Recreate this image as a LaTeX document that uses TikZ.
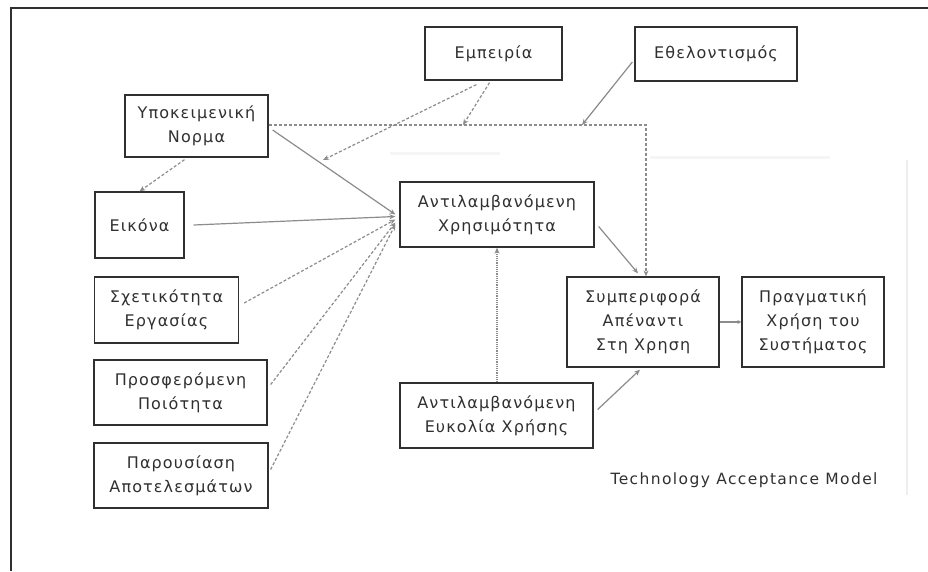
\documentclass[tikz,border=0pt]{standalone}
\usepackage{fontspec}
\setmainfont{DejaVu Sans}
\newfontfamily\boxfont[LetterSpace=7]{DejaVu Sans}
\newfontfamily\capfont[LetterSpace=9]{DejaVu Sans}
\usetikzlibrary{arrows.meta,calc}
\definecolor{ink}{HTML}{303030}
\definecolor{edge}{HTML}{8C8C8C}
\definecolor{faint}{HTML}{EEEEEE}
\begin{document}
\begin{tikzpicture}[x=1pt,y=-1pt,
  box/.style={draw=ink, line width=1.3pt, text=ink, align=center, inner sep=0pt,
    font=\boxfont\fontsize{16}{24}\selectfont},
  link/.style={draw=edge, line width=1.2pt, -{Stealth[length=6pt,width=5pt]}},
  dlink/.style={link, densely dashed},
  frame/.style={draw=ink, line width=2.2pt},
]
% page
\useasboundingbox (0,0) rectangle (928,571);
\fill[white] (0,0) rectangle (928,571);

% outer frame (top and left edges)
\draw[frame] (11,571) -- (11,8) -- (928,8);

% faint boundary of the acceptance model
\draw[faint, line width=1.5pt] (907,160) -- (907,495);
\draw[faint!60, line width=3pt] (390,153) -- (500,153);
\draw[faint!60, line width=3pt] (650,157) -- (830,157);

% factors
\node[box, minimum width=137pt, minimum height=53pt] (emp)    at (493.5,53.5) {Εμπειρία};
\node[box, minimum width=162pt, minimum height=54pt] (ethel)  at (716,54)     {Εθελοντισμός};
\node[box, minimum width=143pt, minimum height=62pt] (norma)  at (196.5,126)  {Υποκειμενική\\Νορμα};
\node[box, minimum width=89pt,  minimum height=66pt] (eikona) at (139.5,225)  {Εικόνα};
\node[box, minimum width=144pt, minimum height=66pt] (sxet)   at (166.5,310)  {Σχετικότητα\\Εργασίας};
\node[box, minimum width=173pt, minimum height=65pt] (prosf)  at (180.5,392.5) {Προσφερόμενη\\Ποιότητα};
\node[box, minimum width=174pt, minimum height=65pt] (parous) at (181,475.5)  {Παρουσίαση\\Αποτελεσμάτων};

% acceptance model
\node[box, minimum width=194pt, minimum height=65pt] (ax)    at (497,214.5) {Αντιλαμβανόμενη\\Χρησιμότητα};
\node[box, minimum width=193pt, minimum height=65pt] (ae)    at (496.5,415.5) {Αντιλαμβανόμενη\\Ευκολία Χρήσης};
\node[box, minimum width=152pt, minimum height=90pt] (symp)  at (643,322) {Συμπεριφορά\\Απέναντι\\Στη Χρηση};
\node[box, minimum width=142pt, minimum height=90pt] (pragm) at (813,322) {Πραγματική\\Χρήση του\\Συστήματος};

\node[text=ink, font=\capfont\fontsize{15.5}{16}\selectfont, anchor=center] (tam) at (744,480) {Technology Acceptance Model};

% junction points
\coordinate (corner) at (646,125);
\coordinate (nstart) at (norma.east |- corner);
\coordinate (mid1)  at (463,125);
\coordinate (mid2)  at (582,125);
\coordinate (mod)   at (323,160);

% subjective norm to behaviour, along the top
\draw[dlink] (nstart) -- (corner) -- (symp.north -| corner);

% moderators
\draw[dlink] ($(emp.south)+(-4,2)$) -- (mid1);
\draw[dlink] ($(emp.south west)+(52,4)$) -- (mod);
\draw[link] ($(ethel.west)+(-2,8)$) -- (mid2);

% subjective norm to image
\draw[dlink] ($(norma.south)+(-12,2)$) -- (eikona.north);

% determinants of perceived usefulness
\draw[link]  ($(norma.east)+(4,4)$)  -- ($(ax.west)+(-4,0)$);
\draw[link]  ($(eikona.east)+(9,0)$) -- ($(ax.west)+(-4,2)$);
\draw[dlink] ($(sxet.east)+(5,-7)$)  -- ($(ax.west)+(-4,5)$);
\draw[dlink] ($(prosf.east)+(3,-8)$) -- ($(ax.west)+(-4,8)$);
\draw[dlink] ($(parous.east)+(2,-6)$) -- ($(ax.west)+(-4,10)$);

% core relations
\draw[link] ($(ax.east)+(4,12)$) -- ($(symp.north)+(-5,-3)$);
\draw[link, densely dotted] (ae.north -| ax.south) -- (ax.south);
\draw[link] ($(ae.east)+(4,-6)$) -- ($(symp.south)+(-3,2)$);
\draw[link, -{Stealth[length=4pt,width=4pt]}] (symp.east) -- (pragm.west);
\end{tikzpicture}
\end{document}
